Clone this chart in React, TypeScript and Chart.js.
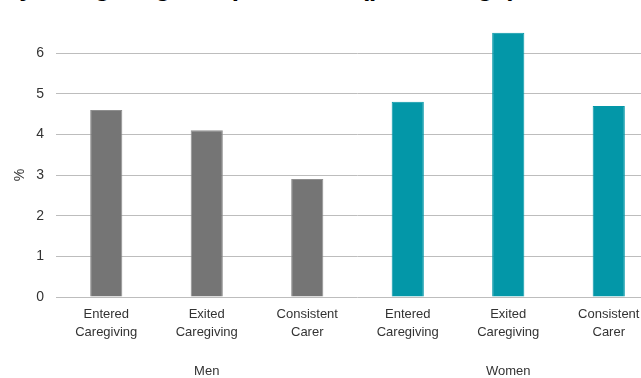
import React, { useEffect, useRef } from "react";
import { Chart, registerables } from "chart.js";

Chart.register(...registerables);

const categories: string[][] = [
  ["Entered", "Caregiving"],
  ["Exited", "Caregiving"],
  ["Consistent", "Carer"],
  ["Entered", "Caregiving"],
  ["Exited", "Caregiving"],
  ["Consistent", "Carer"],
];
const groups = ["Men", "Women"];
const values = [4.6, 4.1, 2.9, 4.8, 6.5, 4.7];
const groupOfBar = [0, 0, 0, 1, 1, 1];
const groupColors = ["#757575", "#0397a8"];
const groupBorders = ["#8e8e8e", "#0397a8"];
const yTitle = "%";
const titleText = "Employment transitions by caregiving and paid work (percentage)";

export default function App() {
  const ref = useRef<HTMLCanvasElement>(null);
  useEffect(() => {
    if (!ref.current) return;
    const family = "'Liberation Sans', Arial, sans-serif";
    const font = { family, size: 13 };
    const yTitlePlugin = {
      id: "yTitle",
      afterDraw(c: any) {
        const ctx = c.ctx;
        ctx.save();
        ctx.translate(20, 183);
        ctx.rotate(-Math.PI / 2);
        ctx.fillStyle = "#333";
        ctx.font = `14px ${family}`;
        ctx.textAlign = "center";
        ctx.textBaseline = "middle";
        ctx.fillText(yTitle, 0, 0);
        ctx.restore();
      },
    };
    const chart = new Chart(ref.current, {
      type: "bar",
      data: {
        labels: categories,
        datasets: [
          {
            data: values,
            backgroundColor: groupOfBar.map((g) => groupColors[g]),
            borderColor: groupOfBar.map((g) => groupBorders[g]),
            borderWidth: 1,
            barPercentage: 0.32,
            categoryPercentage: 1,
          },
        ],
      },
      options: {
        responsive: false,
        animation: false,
        layout: { padding: { top: 4, right: 0, left: 0, bottom: 0 } },
        plugins: { legend: { display: false }, tooltip: { enabled: false } },
        scales: {
          x: {
            position: "bottom",
            grid: { display: false, drawTicks: false },
            border: { display: false },
            ticks: { color: "#333", font: { ...font, lineHeight: 18 / 13 }, padding: 8, maxRotation: 0, autoSkip: false },
            afterFit: (s: any) => { s.height = 44; },
          },
          x2: {
            type: "category",
            position: "bottom",
            labels: groups,
            grid: { display: false, drawTicks: false },
            border: { display: false },
            ticks: { color: "#333", font: { ...font, lineHeight: 18 / 13 }, padding: 21, maxRotation: 0 },
            afterFit: (s: any) => { s.height = 37; },
          },
          y: {
            min: 0,
            max: 7,
            ticks: { stepSize: 1, color: "#333", font: { ...font, size: 14 }, padding: 12 },
            grid: { color: "#bdbdbd", lineWidth: 1, drawTicks: false },
            border: { display: false },
            afterFit: (s: any) => { s.width = 56; },
          },
        },
      },
      plugins: [yTitlePlugin],
    } as any);
    return () => chart.destroy();
  }, []);
  return (
    <div style={{ position: "fixed", left: 0, top: 0, width: 641, height: 378, overflow: "hidden", background: "#fff" }}>
      <canvas ref={ref} width={659} height={386} style={{ position: "absolute", left: 0, top: -8 }} />
      <div
        style={{
          position: "absolute",
          left: 0,
          top: 0,
          width: 641,
          height: 16,
          overflow: "hidden",
          background: "#fff",
        }}
      >
        <div
          style={{
            position: "absolute",
            left: -300,
            top: -26,
            whiteSpace: "nowrap",
            font: "bold 26px/26px 'Liberation Sans', Arial, sans-serif",
            color: "#000",
          }}
        >
          {titleText}
        </div>
      </div>
    </div>
  );
}
